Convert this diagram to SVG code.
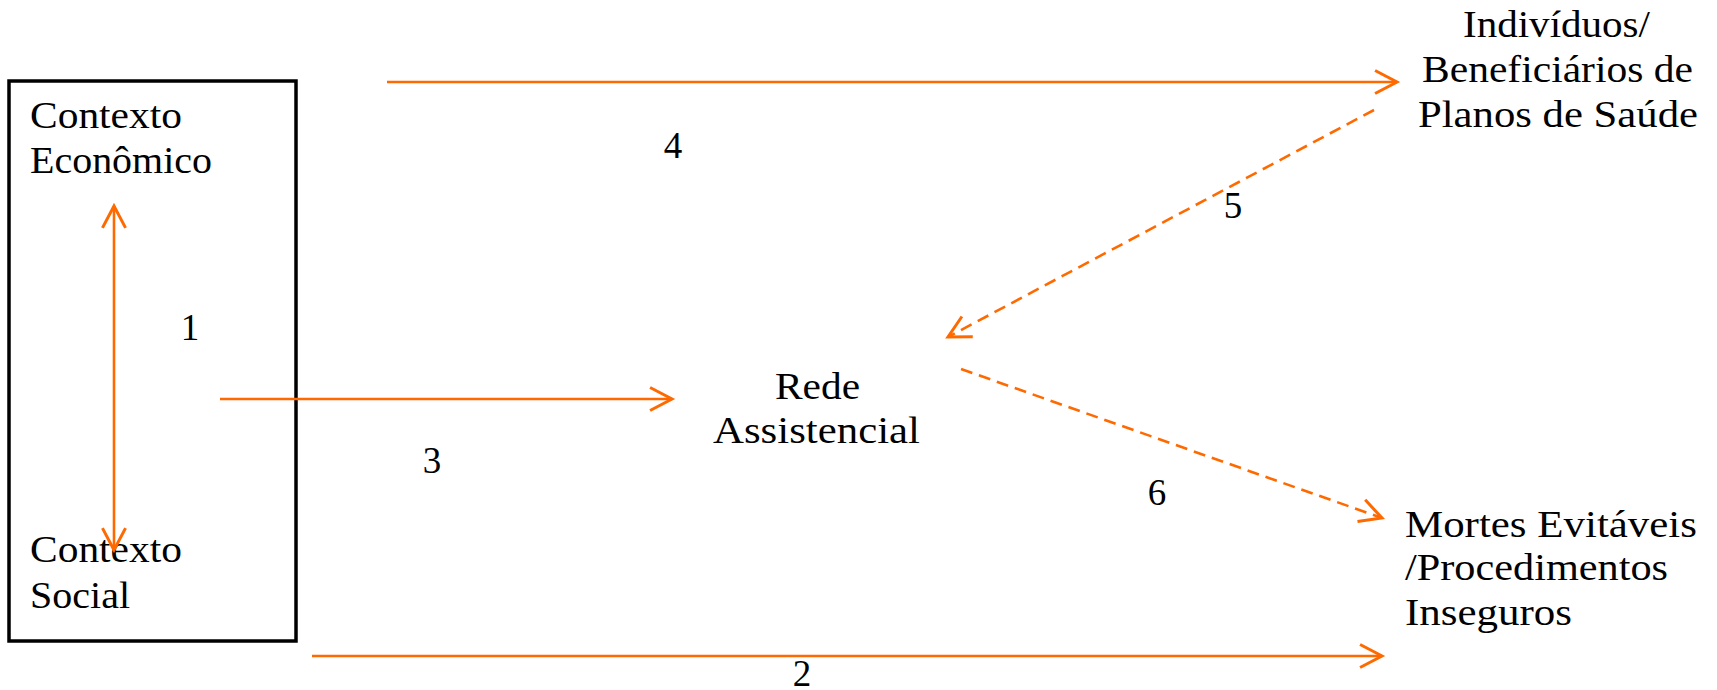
<svg xmlns="http://www.w3.org/2000/svg" width="1717" height="690" viewBox="0 0 1717 690">
<style>
text{font-family:"Liberation Serif","DejaVu Serif","Times New Roman",serif;font-size:37px;fill:#000}
.c{stroke:#FF6A00;stroke-width:2.6;fill:none}
.d{stroke-dasharray:12 7}
</style>
<defs>
<marker id="ah" markerUnits="userSpaceOnUse" markerWidth="30" markerHeight="30" viewBox="-22 -12 26 24" refX="0" refY="0" orient="auto-start-reverse">
<path d="M-19,-10 L0,0 L-19,10" fill="none" stroke="#FF6A00" stroke-width="2.6"/>
</marker>
</defs>
<rect width="1717" height="690" fill="#fff"/>
<g id="box">
<rect x="9" y="81" width="287" height="560" fill="none" stroke="#000" stroke-width="3.5"/>
</g>
<g id="contexto-economico">
<text x="30" y="128" textLength="152" lengthAdjust="spacingAndGlyphs" font-family="Liberation Serif, DejaVu Serif, serif">Contexto</text>
<text x="30" y="173" textLength="182" lengthAdjust="spacingAndGlyphs" font-family="Liberation Serif, DejaVu Serif, serif">Econômico</text>
</g>
<g id="contexto-social">
<text x="30" y="562" textLength="152" lengthAdjust="spacingAndGlyphs" font-family="Liberation Serif, DejaVu Serif, serif">Contexto</text>
<text x="30" y="608" textLength="100" lengthAdjust="spacingAndGlyphs" font-family="Liberation Serif, DejaVu Serif, serif">Social</text>
</g>
<g id="rede">
<text x="775" y="399" textLength="85" lengthAdjust="spacingAndGlyphs" font-family="Liberation Serif, DejaVu Serif, serif">Rede</text>
<text x="713" y="443" textLength="207" lengthAdjust="spacingAndGlyphs" font-family="Liberation Serif, DejaVu Serif, serif">Assistencial</text>
</g>
<g id="individuos">
<text x="1463" y="37" textLength="187" lengthAdjust="spacingAndGlyphs" font-family="Liberation Serif, DejaVu Serif, serif">Indivíduos/</text>
<text x="1422" y="82" textLength="271" lengthAdjust="spacingAndGlyphs" font-family="Liberation Serif, DejaVu Serif, serif">Beneficiários de</text>
<text x="1418" y="127" textLength="280" lengthAdjust="spacingAndGlyphs" font-family="Liberation Serif, DejaVu Serif, serif">Planos de Saúde</text>
</g>
<g id="mortes">
<text x="1405" y="537" textLength="292" lengthAdjust="spacingAndGlyphs" font-family="Liberation Serif, DejaVu Serif, serif">Mortes Evitáveis</text>
<text x="1405" y="580" textLength="263" lengthAdjust="spacingAndGlyphs" font-family="Liberation Serif, DejaVu Serif, serif">/Procedimentos</text>
<text x="1405" y="625" textLength="167" lengthAdjust="spacingAndGlyphs" font-family="Liberation Serif, DejaVu Serif, serif">Inseguros</text>
</g>
<g id="connectors">
<line class="c" x1="114" y1="206" x2="114" y2="550" marker-start="url(#ah)" marker-end="url(#ah)"/>
<line class="c" x1="220" y1="399" x2="672" y2="399" marker-end="url(#ah)"/>
<line class="c" x1="387" y1="82" x2="1397" y2="82" marker-end="url(#ah)"/>
<line class="c" x1="312" y1="656" x2="1382" y2="656" marker-end="url(#ah)"/>
<line class="c d" x1="1374" y1="110" x2="948" y2="337" marker-end="url(#ah)"/>
<line class="c d" x1="961" y1="369" x2="1382" y2="518" marker-end="url(#ah)"/>
</g>
<g id="labels" text-anchor="middle" font-family="Liberation Serif, DejaVu Serif, serif">
<text x="190" y="340">1</text>
<text x="802" y="686">2</text>
<text x="432" y="473">3</text>
<text x="673" y="158">4</text>
<text x="1233" y="218">5</text>
<text x="1157" y="505">6</text>
</g>
</svg>
